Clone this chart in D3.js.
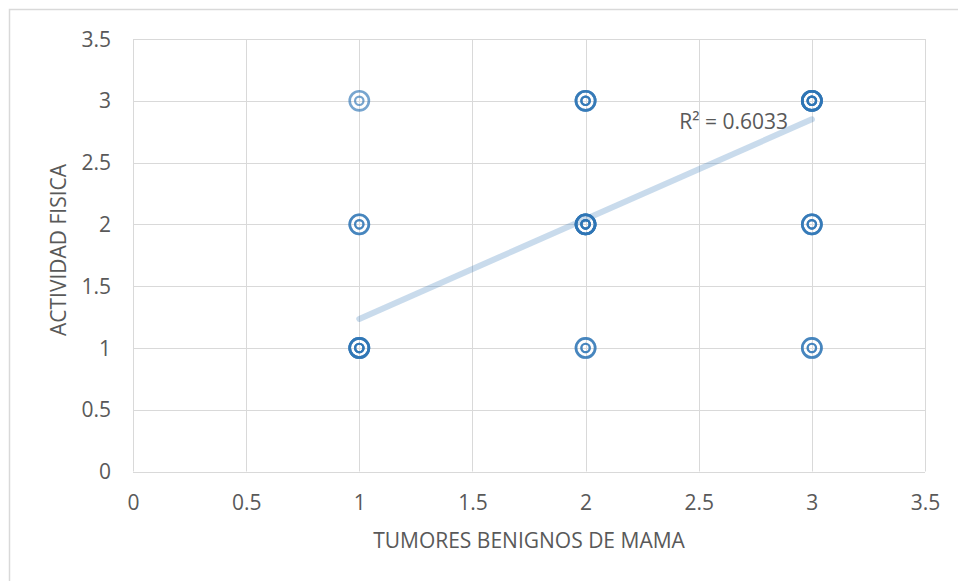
<!DOCTYPE html>
<html>
<head>
<meta charset="utf-8">
<script src="https://cdn.jsdelivr.net/npm/d3@7"></script>
<style>
	body { margin: 0; background: #fff; }
	text { font-family: "Open Sans", sans-serif; fill: #595959; }
</style>
</head>
<body>
<div class="container"></div>
<script>
// datos: cada punto (x, y) con cuantas veces se repite
var tumores   = [1, 1, 1, 2, 2, 2, 3, 3, 3];
var actividad = [1, 2, 3, 1, 2, 3, 1, 2, 3];
var repeticiones = [4, 2, 1, 2, 5, 3, 2, 3, 5];

// linea de tendencia
var trendX = [1, 3];
var trendY = [1.235, 2.85];
var r2Label = "R\u00b2 = 0.6033";

var ticks = [0, 0.5, 1, 1.5, 2, 2.5, 3, 3.5];

var width = 958, height = 581;
var margin = {top: 39, right: 33, bottom: 110, left: 133};

var x_scale = d3.scaleLinear()
	.domain([0, 3.5])
	.range([margin.left, width - margin.right]);

var y_scale = d3.scaleLinear()
	.domain([0, 3.5])
	.range([height - margin.bottom + 0.5, margin.top]);

var svg = d3.select(".container").append("svg")
	.attr("width", width)
	.attr("height", height);

// borde del area del grafico
svg.append("rect")
	.attr("x", 9.5).attr("y", 9.5)
	.attr("width", 980).attr("height", 620)
	.attr("fill", "none")
	.attr("stroke", "#d9d9d9")
	.attr("stroke-width", 1.5);

// grid
var grid = svg.append("g");
grid.selectAll(".gx").data(ticks).enter().append("line")
	.attr("x1", function(d) { return Math.round(x_scale(d)) + 0.5; })
	.attr("x2", function(d) { return Math.round(x_scale(d)) + 0.5; })
	.attr("y1", y_scale(0)).attr("y2", y_scale(3.5))
	.attr("stroke", "#d9d9d9");
grid.selectAll(".gy").data(ticks).enter().append("line")
	.attr("y1", function(d) { return Math.round(y_scale(d)) + 0.5; })
	.attr("y2", function(d) { return Math.round(y_scale(d)) + 0.5; })
	.attr("x1", x_scale(0)).attr("x2", x_scale(3.5))
	.attr("stroke", "#d9d9d9");

// ejes (solo etiquetas)
var x_axis = d3.axisBottom(x_scale).tickValues(ticks).tickSize(0).tickPadding(0)
	.tickFormat(function(d) { return String(d); });
var y_axis = d3.axisLeft(y_scale).tickValues(ticks).tickSize(0).tickPadding(0)
	.tickFormat(function(d) { return String(d); });

var gx = svg.append("g")
	.attr("transform", "translate(0," + (y_scale(0) + 24) + ")")
	.call(x_axis);
var gy = svg.append("g")
	.attr("transform", "translate(" + 111 + ",0)")
	.call(y_axis);
[gx, gy].forEach(function(g) {
	g.select(".domain").remove();
	g.selectAll("text")
		.attr("font-family", "Open Sans, sans-serif")
		.attr("font-size", 21)
		.style("fill", "#595959");
});
gx.selectAll("text").attr("dy", "0.71em").attr("y", 0);
gy.selectAll("text").attr("dy", "0.34em").attr("x", 0);

// titulos de ejes
svg.append("text")
	.attr("x", (x_scale(0) + x_scale(3.5)) / 2)
	.attr("y", 548)
	.attr("text-anchor", "middle")
	.attr("font-size", 21)
	.text("TUMORES BENIGNOS DE MAMA");

svg.append("text")
	.attr("transform", "translate(66," + 250 + ") rotate(-90)")
	.attr("text-anchor", "middle")
	.attr("font-size", 21)
	.text("ACTIVIDAD FISICA");

// linea de tendencia
var lineFunction = d3.line()
	.x(function(d) { return x_scale(d[0]); })
	.y(function(d) { return y_scale(d[1]); });

svg.append("path")
	.attr("d", lineFunction(d3.zip(trendX, trendY)))
	.attr("stroke", "#2e75b6")
	.attr("stroke-opacity", 0.26)
	.attr("stroke-width", 6)
	.attr("stroke-linecap", "round")
	.attr("fill", "none");

// puntos (se repiten segun cuantas observaciones hay)
var puntos = [];
tumores.forEach(function(t, i) {
	for (var k = 0; k < repeticiones[i]; k++)
		puntos.push({x: t, y: actividad[i]});
});

var marks = svg.append("g").selectAll("g")
	.data(puntos)
	.enter().append("g")
	.attr("transform", function(d) {
		return "translate(" + x_scale(d.x) + "," + y_scale(d.y) + ")";
	});

marks.append("circle")
	.attr("r", 9.6)
	.attr("fill", "none")
	.attr("stroke", "#2e75b6")
	.attr("stroke-opacity", 0.65)
	.attr("stroke-width", 2.6);
marks.append("circle")
	.attr("r", 4.2)
	.attr("fill", "none")
	.attr("stroke", "#2e75b6")
	.attr("stroke-opacity", 0.65)
	.attr("stroke-width", 2.2);

// R2
svg.append("text")
	.attr("x", 788)
	.attr("y", 129)
	.attr("text-anchor", "end")
	.attr("font-size", 21)
	.text(r2Label);
</script>
</body>
</html>
